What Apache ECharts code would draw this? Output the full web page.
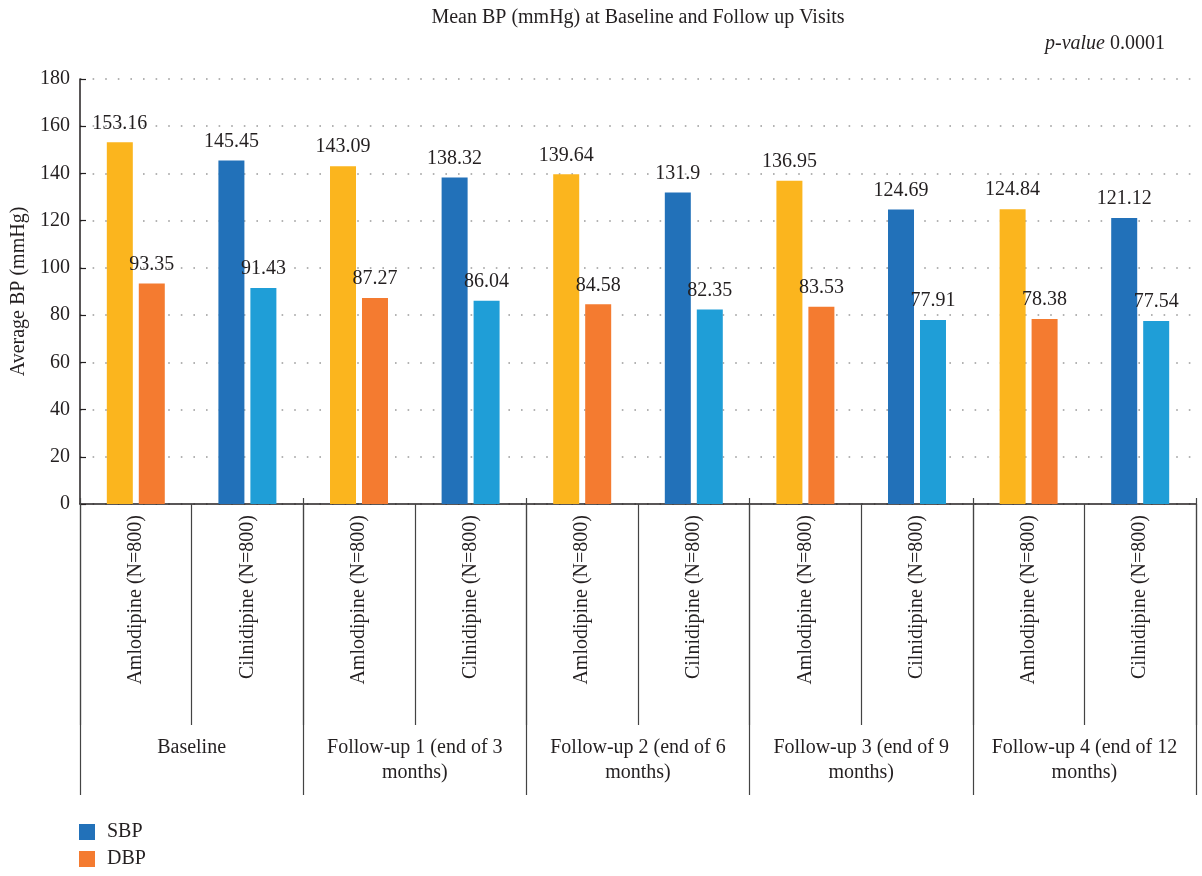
<!DOCTYPE html>
<html>
<head>
<meta charset="utf-8">
<script src="https://cdn.jsdelivr.net/npm/echarts@6/dist/echarts.min.js"></script>
<style>html,body{margin:0;padding:0;background:#fff}#c{width:1202px;height:876px}</style>
</head>
<body>
<div id="c"></div>
<script>
const categories = ['Amlodipine (N=800)', 'Cilnidipine (N=800)', 'Amlodipine (N=800)', 'Cilnidipine (N=800)', 'Amlodipine (N=800)', 'Cilnidipine (N=800)', 'Amlodipine (N=800)', 'Cilnidipine (N=800)', 'Amlodipine (N=800)', 'Cilnidipine (N=800)'];
const drugs = ['Amlodipine', 'Cilnidipine', 'Amlodipine', 'Cilnidipine', 'Amlodipine', 'Cilnidipine', 'Amlodipine', 'Cilnidipine', 'Amlodipine', 'Cilnidipine'];
const groupLabels = ['Baseline', 'Follow-up 1 (end of 3\nmonths)', 'Follow-up 2 (end of 6\nmonths)', 'Follow-up 3 (end of 9\nmonths)', 'Follow-up 4 (end of 12\nmonths)'];
const sbp = [153.16, 145.45, 143.09, 138.32, 139.64, 131.9, 136.95, 124.69, 124.84, 121.12];
const dbp = [93.35, 91.43, 87.27, 86.04, 84.58, 82.35, 83.53, 77.91, 78.38, 77.54];
const yTicks = [0, 20, 40, 60, 80, 100, 120, 140, 160, 180];

const FONT = '"Liberation Serif", "DejaVu Serif", serif';
const TXT = '#231f20';
const colors = {
  Amlodipine: { SBP: '#fbb51e', DBP: '#f47b30' },
  Cilnidipine: { SBP: '#2271b9', DBP: '#1f9ed7' }
};

const chart = echarts.init(document.getElementById('c'), null, { renderer: 'canvas' });
const mk = (vals, key) => vals.map((v, i) => ({ value: v, itemStyle: { color: colors[drugs[i]][key] } }));

chart.setOption({
  animation: false,
  backgroundColor: '#fff',
  textStyle: { fontFamily: FONT, color: TXT },
  title: [
    { text: 'Mean BP (mmHg) at Baseline and Follow up Visits', left: 638, textAlign: 'center', top: 8, padding: 0,
      textStyle: { fontFamily: FONT, fontSize: 20, fontWeight: 'normal', color: TXT } },
    { text: '{i|p-value} 0.0001', right: 37, top: 34, padding: 0,
      textStyle: { fontFamily: FONT, fontSize: 20, fontWeight: 'normal', color: TXT,
        rich: { i: { fontFamily: FONT, fontSize: 20, fontStyle: 'italic', color: TXT } } } }
  ],
  legend: {
    orient: 'vertical', left: 79, top: 822, padding: 0, itemWidth: 16, itemHeight: 16, itemGap: 7,
    icon: 'rect', data: ['SBP', 'DBP'], height: 60,
    textStyle: { fontFamily: FONT, fontSize: 20, color: TXT, padding: [0, 0, 0, 7] }
  },
  grid: { left: 80, right: 6, top: 79, bottom: 372, containLabel: false },
  xAxis: [
    { type: 'category', data: categories, position: 'bottom',
      axisLine: { show: true, lineStyle: { color: TXT, width: 1.5 } },
      axisTick: { show: true, length: 221, lineStyle: { color: '#444', width: 1.2 } },
      axisLabel: { rotate: 90, margin: 11, fontFamily: FONT, fontSize: 20, color: TXT, interval: 0 },
      splitLine: { show: false } },
    { type: 'category', data: groupLabels, position: 'bottom', gridIndex: 0,
      axisLine: { show: false },
      axisTick: { show: true, length: 291, lineStyle: { color: '#444', width: 1.2 } },
      axisLabel: { margin: 231, fontFamily: FONT, fontSize: 20, color: TXT, lineHeight: 25, interval: 0, align: 'center' },
      splitLine: { show: false } },
    { type: 'category', data: categories, position: 'bottom', gridIndex: 0,
      axisLine: { show: false },
      axisTick: { show: true, inside: true, length: 6, lineStyle: { color: '#444', width: 1.2 } },
      axisLabel: { show: false }, splitLine: { show: false } }
  ],
  yAxis: {
    type: 'value', min: 0, max: 180, interval: 20,
    name: 'Average BP (mmHg)', nameLocation: 'middle', nameGap: 48,
    nameTextStyle: { fontFamily: FONT, fontSize: 20, color: TXT },
    axisLine: { show: true, lineStyle: { color: TXT, width: 1.5 } },
    axisTick: { show: true, inside: true, length: 6, lineStyle: { color: TXT, width: 1.2 } },
    axisLabel: { margin: 10, fontFamily: FONT, fontSize: 20, color: TXT,
      formatter: v => yTicks.includes(v) ? String(v) : '' },
    splitLine: { show: true, lineStyle: { color: '#9a9a9a', width: 1.6, type: [1.6, 11] } }
  },
  series: [
    { name: 'SBP', type: 'bar', xAxisIndex: 0, data: mk(sbp, 'SBP'), barWidth: 26, barGap: '23%',
      itemStyle: { color: '#2271b9' },
      label: { show: true, position: 'top', distance: 9, fontFamily: FONT, fontSize: 20, color: TXT } },
    { name: 'DBP', type: 'bar', xAxisIndex: 0, data: mk(dbp, 'DBP'), barWidth: 26, barGap: '23%',
      itemStyle: { color: '#f47b30' },
      label: { show: true, position: 'top', distance: 9, fontFamily: FONT, fontSize: 20, color: TXT } }
  ]
});
</script>
</body>
</html>
